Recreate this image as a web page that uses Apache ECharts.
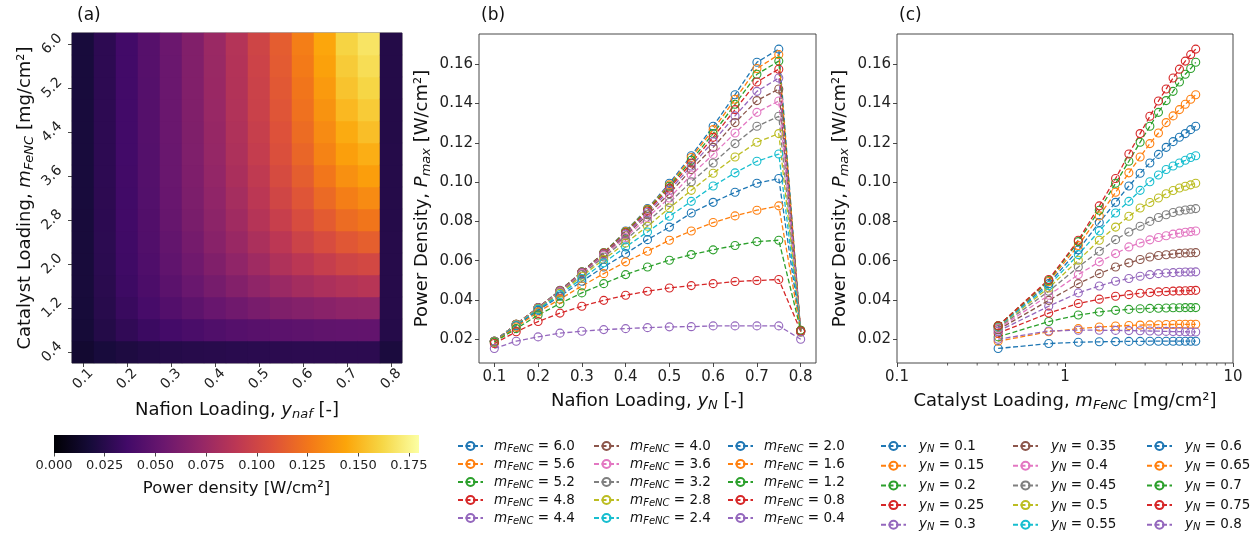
<!DOCTYPE html>
<html><head><meta charset="utf-8">
<script src="https://cdn.jsdelivr.net/npm/echarts@6/dist/echarts.min.js"></script>
<style>html,body{margin:0;padding:0;background:#fff}#c{width:1260px;height:539px}</style>
</head><body><div id="c"></div>
<script>
// ---------- data ----------
const yN = [0.1, 0.15, 0.2, 0.25, 0.3, 0.35, 0.4, 0.45, 0.5, 0.55, 0.6, 0.65, 0.7, 0.75, 0.8];
const mFeNC = [0.4, 0.8, 1.2, 1.6, 2.0, 2.4, 2.8, 3.2, 3.6, 4.0, 4.4, 4.8, 5.2, 5.6, 6.0];
// Pmax [W/cm2] for each Nafion loading, indexed by catalyst loading mFeNC
const P_yN010 = [0.0153, 0.0178, 0.0185, 0.0187, 0.0188, 0.0189, 0.0189, 0.0190, 0.0190, 0.0190, 0.0190, 0.0190, 0.0190, 0.0190, 0.0190];
const P_yN015 = [0.0190, 0.0238, 0.0254, 0.0262, 0.0267, 0.0270, 0.0272, 0.0273, 0.0274, 0.0275, 0.0275, 0.0276, 0.0276, 0.0276, 0.0276];
const P_yN020 = [0.0212, 0.0290, 0.0323, 0.0339, 0.0347, 0.0352, 0.0355, 0.0357, 0.0358, 0.0359, 0.0360, 0.0360, 0.0361, 0.0361, 0.0361];
const P_yN025 = [0.0231, 0.0333, 0.0382, 0.0404, 0.0419, 0.0427, 0.0434, 0.0438, 0.0441, 0.0443, 0.0445, 0.0446, 0.0447, 0.0448, 0.0449];
const P_yN030 = [0.0241, 0.0368, 0.0436, 0.0471, 0.0495, 0.0509, 0.0521, 0.0529, 0.0534, 0.0537, 0.0539, 0.0541, 0.0542, 0.0542, 0.0543];
const P_yN035 = [0.0249, 0.0398, 0.0483, 0.0534, 0.0568, 0.0589, 0.0606, 0.0619, 0.0626, 0.0630, 0.0634, 0.0637, 0.0639, 0.0640, 0.0641];
const P_yN040 = [0.0254, 0.0424, 0.0529, 0.0594, 0.0636, 0.0670, 0.0690, 0.0706, 0.0718, 0.0727, 0.0735, 0.0740, 0.0745, 0.0748, 0.0751];
const P_yN045 = [0.0259, 0.0444, 0.0568, 0.0648, 0.0707, 0.0746, 0.0775, 0.0800, 0.0820, 0.0834, 0.0845, 0.0853, 0.0858, 0.0862, 0.0865];
const P_yN050 = [0.0263, 0.0461, 0.0602, 0.0704, 0.0771, 0.0826, 0.0868, 0.0896, 0.0919, 0.0941, 0.0957, 0.0970, 0.0979, 0.0986, 0.0994];
const P_yN055 = [0.0264, 0.0473, 0.0631, 0.0751, 0.0843, 0.0902, 0.0958, 0.1002, 0.1036, 0.1064, 0.1082, 0.1097, 0.1111, 0.1125, 0.1134];
const P_yN060 = [0.0268, 0.0483, 0.0655, 0.0794, 0.0897, 0.0980, 0.1045, 0.1097, 0.1141, 0.1177, 0.1206, 0.1228, 0.1247, 0.1267, 0.1284];
const P_yN065 = [0.0268, 0.0494, 0.0677, 0.0828, 0.0948, 0.1047, 0.1128, 0.1196, 0.1250, 0.1303, 0.1337, 0.1369, 0.1396, 0.1422, 0.1445];
const P_yN070 = [0.0268, 0.0499, 0.0697, 0.0857, 0.0994, 0.1106, 0.1203, 0.1284, 0.1355, 0.1415, 0.1462, 0.1510, 0.1549, 0.1578, 0.1610];
const P_yN075 = [0.0268, 0.0504, 0.0704, 0.0879, 0.1018, 0.1143, 0.1247, 0.1335, 0.1413, 0.1474, 0.1530, 0.1575, 0.1616, 0.1649, 0.1677];
const P_yN080 = [0.0200, 0.0242, 0.0246, 0.0246, 0.0245, 0.0244, 0.0243, 0.0242, 0.0241, 0.0240, 0.0239, 0.0239, 0.0238, 0.0237, 0.0237];
const pmax = [P_yN010, P_yN015, P_yN020, P_yN025, P_yN030, P_yN035, P_yN040, P_yN045,
              P_yN050, P_yN055, P_yN060, P_yN065, P_yN070, P_yN075, P_yN080];

// tick labels
const xTicksB = [0.1, 0.2, 0.3, 0.4, 0.5, 0.6, 0.7, 0.8];
const yTicksP = [0.02, 0.04, 0.06, 0.08, 0.10, 0.12, 0.14, 0.16];
const logMinorTicks = [0.2, 0.3, 0.4, 0.5, 0.6, 0.7, 0.8, 0.9, 2, 3, 4, 5, 6, 7, 8, 9];
const cbarTicks = [0, 0.025, 0.05, 0.075, 0.1, 0.125, 0.15, 0.175];

// ---------- styling ----------
const FONT = 'DejaVu Sans';
const inferno = ['#000004', '#160b39', '#420a68', '#6a176e', '#932667', '#bc3754',
                 '#dd513a', '#f37819', '#fca50a', '#f6d746', '#fcffa4'];
const tab10 = ['#1f77b4', '#ff7f0e', '#2ca02c', '#d62728', '#9467bd',
               '#8c564b', '#e377c2', '#7f7f7f', '#bcbd22', '#17becf'];
const CMAX = 0.18;
const CB = {left: 54, top: 435, width: 365, height: 18};

const chart = echarts.init(document.getElementById('c'), null, {renderer: 'canvas'});

const nameRich = (fs, sfs) => ({
  i: {fontStyle: 'italic', fontSize: fs, lineHeight: fs + 4, fontFamily: FONT, color: '#111'},
  s: {fontStyle: 'italic', fontSize: sfs, lineHeight: 9, verticalAlign: 'bottom', fontFamily: FONT, color: '#111'},
  t: {fontSize: fs, lineHeight: fs + 4, fontFamily: FONT, color: '#111'}
});
const nameStyle = {fontSize: 18, lineHeight: 22, fontFamily: FONT, color: '#111', rich: nameRich(18, 13)};

const tickLabel = {fontSize: 15, color: '#222', fontFamily: FONT};
const tickStyle = {show: true, inside: false, length: 4, lineStyle: {color: '#333', width: 0.9}};

// heatmap data
const heatData = [];
yN.forEach((y, i) => mFeNC.forEach((m, j) => heatData.push([i, j, pmax[i][j]])));

const series = [];
series.push({
  type: 'heatmap', xAxisIndex: 0, yAxisIndex: 0, data: heatData,
  itemStyle: {borderWidth: 0}, emphasis: {disabled: true}, silent: true
});

function lineSeries(name, color, data, axis) {
  return {
    type: 'line', name, xAxisIndex: axis, yAxisIndex: axis, data,
    symbol: 'circle', symbolSize: 8, showSymbol: true,
    itemStyle: {color: 'rgba(255,255,255,0)', borderColor: color, borderWidth: 1.1},
    lineStyle: {color, width: 1.3, type: [5, 2.5]},
    emphasis: {disabled: true}, silent: true, animation: false
  };
}
// panel (b): one line per catalyst loading, descending
const namesB = [];
for (let k = 0; k < mFeNC.length; k++) {
  const j = mFeNC.length - 1 - k;
  const name = 'm=' + mFeNC[j].toFixed(1);
  namesB.push(name);
  series.push(lineSeries(name, tab10[k % 10], yN.map((y, i) => [y, pmax[i][j]]), 1));
}
// panel (c): one line per Nafion loading
const namesC = [];
yN.forEach((y, i) => {
  const name = 'yN=' + y;
  namesC.push(name);
  series.push(lineSeries(name, tab10[i % 10], mFeNC.map((m, j) => [m, pmax[i][j]]), 2));
});
// minor ticks of the log axis
series.push({
  type: 'custom', xAxisIndex: 2, yAxisIndex: 2, clip: false, silent: true,
  data: logMinorTicks.map(v => [v, 0.05]),
  renderItem: (params, api) => {
    const x = api.coord([api.value(0), api.value(1)])[0];
    const b = params.coordSys.y + params.coordSys.height;
    return {type: 'line', shape: {x1: x, y1: b, x2: x, y2: b + 2.5},
            style: {stroke: '#333', lineWidth: 0.8}};
  }
});

const legendFmt = name => name.startsWith('m=')
  ? '{i|m}{s|FeNC}{t| = ' + name.slice(2) + '}'
  : '{j|y}{s|N}{t| = ' + name.slice(3) + '}';
const legendRich = {
  i: {fontStyle: 'italic', fontSize: 13.5, lineHeight: 16, padding: [0, 0, 0, 6], fontFamily: FONT, color: '#111'},
  j: {fontStyle: 'italic', fontSize: 13.5, lineHeight: 16, padding: [0, 0, 0, 8], fontFamily: FONT, color: '#111'},
  s: {fontStyle: 'italic', fontSize: 10, lineHeight: 7, verticalAlign: 'bottom', fontFamily: FONT, color: '#111'},
  t: {fontSize: 13.5, lineHeight: 16, fontFamily: FONT, color: '#111'}
};
function legend(names, left, gap) {
  return {
    data: names, left, top: 439, orient: 'vertical', padding: 0, itemGap: gap,
    itemWidth: 25, itemHeight: 10, selectedMode: false, formatter: legendFmt,
    textStyle: {rich: legendRich}
  };
}

const option = {
  animation: false,
  textStyle: {fontFamily: FONT},
  title: [
    {text: '(a)', left: 77, top: 7, padding: 0, textStyle: {fontSize: 17, fontWeight: 'normal', color: '#111', fontFamily: FONT}},
    {text: '(b)', left: 481, top: 7, padding: 0, textStyle: {fontSize: 17, fontWeight: 'normal', color: '#111', fontFamily: FONT}},
    {text: '(c)', left: 899, top: 7, padding: 0, textStyle: {fontSize: 17, fontWeight: 'normal', color: '#111', fontFamily: FONT}}
  ],
  grid: [
    {left: 72, top: 33, width: 330, height: 330, show: true, borderColor: '#333', borderWidth: 0.8, backgroundColor: 'transparent', outerBoundsMode: 'none'},
    {left: 479, top: 34, width: 337, height: 329, show: true, borderColor: '#333', borderWidth: 0.9, backgroundColor: 'transparent', outerBoundsMode: 'none'},
    {left: 897, top: 34, width: 336, height: 329, show: true, borderColor: '#333', borderWidth: 0.9, backgroundColor: 'transparent', outerBoundsMode: 'none'},
    {left: CB.left, top: CB.top, width: CB.width, height: CB.height, show: false, outerBoundsMode: 'none'}
  ],
  visualMap: [{type: 'continuous', show: false, min: 0, max: CMAX, seriesIndex: 0, inRange: {color: inferno}}],
  xAxis: [
    {gridIndex: 0, type: 'category', data: yN.map(String),
     axisLine: {show: false}, splitLine: {show: false},
     axisTick: Object.assign({}, tickStyle, {alignWithLabel: true, interval: 1}),
     axisLabel: Object.assign({}, tickLabel, {fontSize: 14, interval: 1, rotate: 45, align: 'center', verticalAlign: 'middle', margin: 16}),
     name: 'Nafion Loading, {i|y}{s|naf}{t| [-]}', nameLocation: 'middle', nameGap: 36, nameMoveOverlap: false, nameTextStyle: nameStyle},
    {gridIndex: 1, type: 'value', min: 0.065, max: 0.835,
     axisLine: {show: false}, splitLine: {show: false},
     axisTick: Object.assign({}, tickStyle, {customValues: xTicksB}),
     axisLabel: Object.assign({}, tickLabel, {customValues: xTicksB, margin: 7, formatter: v => v.toFixed(1)}),
     name: 'Nafion Loading, {i|y}{s|N}{t| [-]}', nameLocation: 'middle', nameGap: 27, nameMoveOverlap: false, nameTextStyle: nameStyle},
    {gridIndex: 2, type: 'log', logBase: 10, min: 0.1, max: 10,
     axisLine: {show: false}, splitLine: {show: false},
     axisTick: tickStyle,
     axisLabel: Object.assign({}, tickLabel, {margin: 7, formatter: v => String(v)}),
     name: 'Catalyst Loading, {i|m}{s|FeNC}{t| [mg/cm²]}', nameLocation: 'middle', nameGap: 27, nameMoveOverlap: false, nameTextStyle: nameStyle},
    {gridIndex: 3, type: 'value', min: 0, max: CMAX,
     axisLine: {show: false}, splitLine: {show: false},
     axisTick: {show: true, length: 3.5, customValues: cbarTicks, lineStyle: {color: '#333', width: 0.9}},
     axisLabel: {customValues: cbarTicks, fontSize: 13, color: '#222', fontFamily: FONT, margin: 6, formatter: v => v.toFixed(3)},
     name: 'Power density [W/cm²]', nameLocation: 'middle', nameGap: 27, nameMoveOverlap: false,
     nameTextStyle: {fontSize: 16.5, color: '#111', fontFamily: FONT}}
  ],
  yAxis: [
    {gridIndex: 0, type: 'category', data: mFeNC.map(v => v.toFixed(1)),
     axisLine: {show: false}, splitLine: {show: false},
     axisTick: Object.assign({}, tickStyle, {alignWithLabel: true, interval: 1}),
     axisLabel: Object.assign({}, tickLabel, {fontSize: 14, interval: 1, rotate: 45, align: 'center', verticalAlign: 'middle', margin: 20}),
     name: 'Catalyst Loading, {i|m}{s|FeNC}{t| [mg/cm²]}', nameLocation: 'middle', nameGap: 36, nameMoveOverlap: false, nameTextStyle: nameStyle},
    {gridIndex: 1, type: 'value', min: 0.0079, max: 0.1754,
     axisLine: {show: false}, splitLine: {show: false},
     axisTick: Object.assign({}, tickStyle, {customValues: yTicksP}),
     axisLabel: Object.assign({}, tickLabel, {customValues: yTicksP, margin: 6, formatter: v => v.toFixed(2)}),
     name: 'Power Density, {i|P}{s|max}{t| [W/cm²]}', nameLocation: 'middle', nameGap: 46, nameMoveOverlap: false, nameTextStyle: nameStyle},
    {gridIndex: 2, type: 'value', min: 0.0079, max: 0.1754,
     axisLine: {show: false}, splitLine: {show: false},
     axisTick: Object.assign({}, tickStyle, {customValues: yTicksP}),
     axisLabel: Object.assign({}, tickLabel, {customValues: yTicksP, margin: 6, formatter: v => v.toFixed(2)}),
     name: 'Power Density, {i|P}{s|max}{t| [W/cm²]}', nameLocation: 'middle', nameGap: 46, nameMoveOverlap: false, nameTextStyle: nameStyle},
    {gridIndex: 3, type: 'value', min: 0, max: 1, show: false}
  ],
  legend: [
    legend(namesB.slice(0, 5), 457, 3), legend(namesB.slice(5, 10), 593, 3), legend(namesB.slice(10, 15), 727, 3),
    legend(namesC.slice(0, 5), 880, 4.7), legend(namesC.slice(5, 10), 1012, 4.7), legend(namesC.slice(10, 15), 1146, 4.7)
  ],
  graphic: [{
    type: 'rect', silent: true, z: 0,
    shape: {x: CB.left, y: CB.top, width: CB.width, height: CB.height},
    style: {fill: new echarts.graphic.LinearGradient(0, 0, 1, 0,
      inferno.map((c, k) => ({offset: k / (inferno.length - 1), color: c})))}
  }],
  series
};
chart.setOption(option);
</script>
</body></html>
